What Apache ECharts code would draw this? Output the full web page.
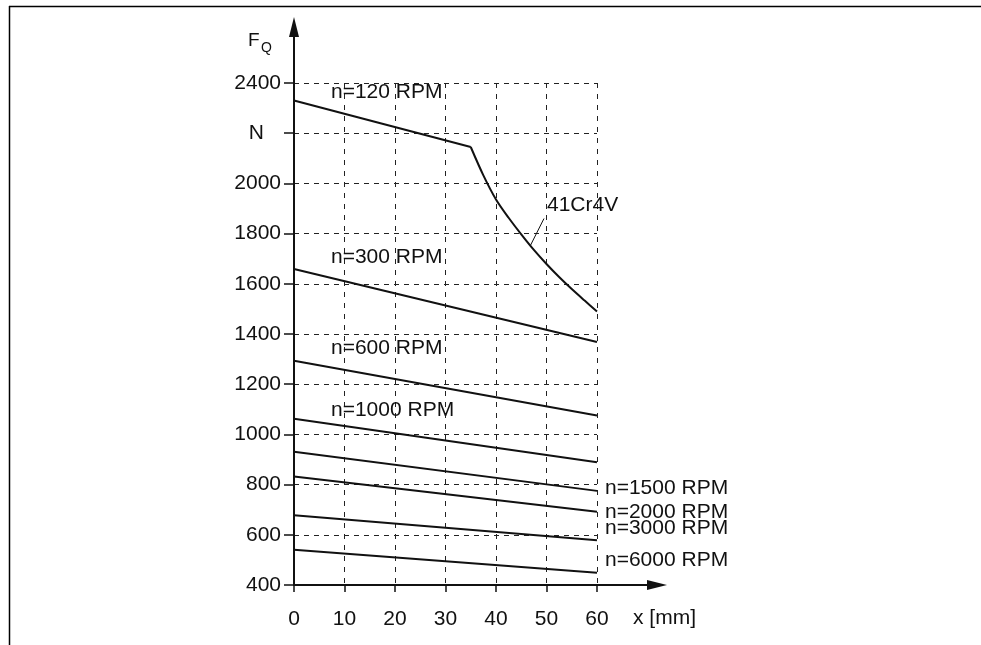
<!DOCTYPE html>
<html>
<head>
<meta charset="utf-8">
<script src="https://cdn.jsdelivr.net/npm/echarts@6/dist/echarts.min.js"></script>
<style>
  html, body { margin: 0; padding: 0; background: #fff; }
  #chart { width: 981px; height: 645px; }
</style>
</head>
<body>
<div id="chart"></div>
<script>
const chart = echarts.init(document.getElementById('chart'));

// load curves F_Q (N) over x (mm), one per speed
const rpmNames = ['n=120 RPM', 'n=300 RPM', 'n=600 RPM', 'n=1000 RPM', 'n=1500 RPM', 'n=2000 RPM', 'n=3000 RPM', 'n=6000 RPM'];
const rpmX = [[0, 35], [0, 60], [0, 60], [0, 60], [0, 60], [0, 60], [0, 60], [0, 60]];
const rpmY = [[2330, 2145], [1659, 1368], [1293, 1075], [1062, 889], [931, 775], [832, 692], [678, 578], [540, 449]];

// material limit curve
const steelName = '41Cr4V';
const steelX = [35, 37.5, 40, 42.5, 45, 47.5, 50, 52.5, 55, 57.5, 60];
const steelY = [2145, 2032, 1936, 1863, 1797, 1735, 1679, 1627, 1579, 1534, 1490];
const leaderX = [46.8, 49.5];
const leaderY = [1752, 1860];

const xTicks = [0, 10, 20, 30, 40, 50, 60];
const yTicks = [400, 600, 800, 1000, 1200, 1400, 1600, 1800, 2000, 2200, 2400];
const yUnitTick = 2200; // shown as "N"

const font = 'Liberation Sans, Arial, sans-serif';
const ink = '#111';

// label placement: first four labelled above the start, the rest at the line end
const labelOffsets = [[37, -8], [37, -12], [37, -13], [37, -9], [0, -3], [0, 0], [0, -12], [0, -12]];

function zip(xs, ys) {
  return xs.map(function (x, i) { return [x, ys[i]]; });
}

function textLabel(text, dist, offset) {
  return {
    show: true,
    formatter: text,
    position: 'right',
    distance: dist,
    offset: offset,
    color: ink,
    fontSize: 21,
    fontFamily: font
  };
}

const rpmSeries = rpmNames.map(function (name, i) {
  const pts = zip(rpmX[i], rpmY[i]);
  const atEnd = i >= 4;
  const idx = atEnd ? pts.length - 1 : 0;
  const data = pts.map(function (p, j) {
    if (j !== idx) return p;
    return { value: p, label: textLabel(name, atEnd ? 8 : 0, labelOffsets[i]) };
  });
  return {
    name: name,
    type: 'line',
    data: data,
    symbol: 'circle',
    symbolSize: 0,
    showSymbol: true,
    showAllSymbol: true,
    lineStyle: { color: ink, width: 2 },
    itemStyle: { color: ink },
    z: 5
  };
});

const leaderData = zip(leaderX, leaderY);
leaderData[1] = { value: leaderData[1], label: textLabel(steelName, 3, [0, -13]) };

chart.setOption({
  animation: false,
  backgroundColor: '#fff',
  grid: [
    { left: 294, right: 384, top: 83, bottom: 60 },
    { left: 294, right: 324, top: 27, bottom: 60 }
  ],
  xAxis: [{
    type: 'value', gridIndex: 0, min: 0, max: 60, interval: 10,
    axisLine: { show: false },
    axisTick: { show: true, length: 7, lineStyle: { color: ink, width: 1.5 } },
    axisLabel: { color: ink, fontSize: 21, fontFamily: font, margin: 24,
      formatter: function (v) { return xTicks.indexOf(v) >= 0 ? String(v) : ''; } },
    splitLine: { show: true, lineStyle: { color: '#222', width: 1, type: [5, 6] } }
  }, {
    type: 'value', gridIndex: 1, min: 0, max: 1,
    axisLine: { show: true, onZero: false, symbol: ['none', 'triangle'], symbolSize: [10, 20],
      lineStyle: { color: ink, width: 2 } },
    axisTick: { show: false }, axisLabel: { show: false }, splitLine: { show: false }
  }],
  yAxis: [{
    type: 'value', gridIndex: 0, min: 400, max: 2400, interval: 200,
    axisLine: { show: false },
    axisTick: { show: true, length: 10, lineStyle: { color: ink, width: 1.5 } },
    axisLabel: {
      color: ink, fontSize: 21, fontFamily: font, margin: 13,
      formatter: function (v) {
        if (v === yUnitTick) return '{n|N}';
        return yTicks.indexOf(v) >= 0 ? String(v) : '';
      },
      rich: { n: { fontSize: 21, fontFamily: font, color: ink, padding: [0, 17, 0, 0] } }
    },
    splitLine: { show: true, lineStyle: { color: '#222', width: 1, type: [5, 5] } }
  }, {
    type: 'value', gridIndex: 1, min: 0, max: 1,
    axisLine: { show: true, onZero: false, symbol: ['none', 'triangle'], symbolSize: [10, 20],
      lineStyle: { color: ink, width: 2 } },
    axisTick: { show: false }, axisLabel: { show: false }, splitLine: { show: false }
  }],
  series: rpmSeries.concat([{
    name: steelName,
    type: 'line',
    data: zip(steelX, steelY),
    smooth: 0.3,
    symbol: 'none',
    lineStyle: { color: ink, width: 2 },
    z: 5
  }, {
    name: steelName + ' leader',
    type: 'line',
    data: leaderData,
    symbol: 'circle',
    symbolSize: 0,
    showSymbol: true,
    showAllSymbol: true,
    lineStyle: { color: ink, width: 1 },
    itemStyle: { color: ink },
    z: 5
  }]),
  graphic: [
    { type: 'line', shape: { x1: 9, y1: 6.5, x2: 981, y2: 6.5 }, style: { stroke: '#000', lineWidth: 1.5 } },
    { type: 'line', shape: { x1: 9.5, y1: 6, x2: 9.5, y2: 645 }, style: { stroke: '#000', lineWidth: 1.5 } },
    { type: 'text', left: 248, top: 31, style: { text: 'F', fontSize: 19, fontFamily: font, fill: ink } },
    { type: 'text', left: 261, top: 41, style: { text: 'Q', fontSize: 14, fontFamily: font, fill: ink } },
    { type: 'text', left: 633, top: 608, style: { text: 'x [mm]', fontSize: 21, fontFamily: font, fill: ink } }
  ]
});
</script>
</body>
</html>
